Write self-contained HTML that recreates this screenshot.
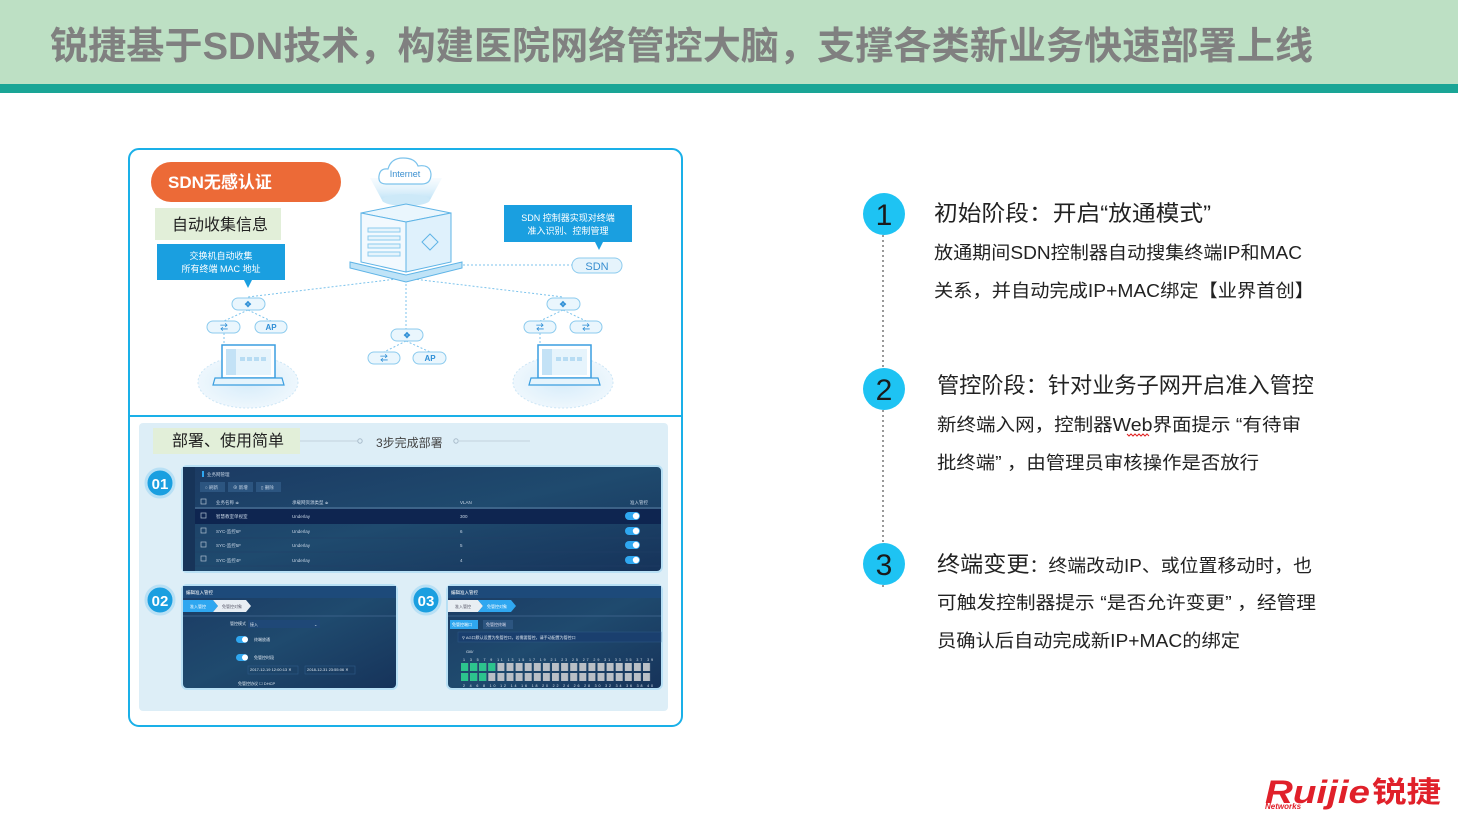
<!DOCTYPE html>
<html><head><meta charset="utf-8"><style>
html,body{margin:0;padding:0;background:#fff;width:1458px;height:826px;overflow:hidden}
svg{display:block}
text{font-family:"Liberation Sans","Noto Sans CJK SC",sans-serif}
</style></head><body>
<svg width="1458" height="826" viewBox="0 0 1458 826" xmlns="http://www.w3.org/2000/svg">
<defs>
<linearGradient id="dk" x1="0" y1="0" x2="1" y2="1">
<stop offset="0" stop-color="#1b3a63"/><stop offset="0.5" stop-color="#1f4a6e"/><stop offset="1" stop-color="#16335a"/></linearGradient>
<linearGradient id="beam" x1="0" y1="0" x2="0" y2="1">
<stop offset="0" stop-color="#e6f4fc" stop-opacity="0.3"/><stop offset="1" stop-color="#bfe3f7"/></linearGradient>
<radialGradient id="ell" cx="0.5" cy="0.5" r="0.5">
<stop offset="0" stop-color="#d6ecfa"/><stop offset="1" stop-color="#eef7fd"/></radialGradient>
<pattern id="ports" x="461" y="663" width="9.1" height="19" patternUnits="userSpaceOnUse">
<rect x="0" y="0" width="7" height="8" fill="#b9bfc6"/><rect x="0" y="10" width="7" height="8" fill="#b9bfc6"/></pattern>
</defs>

<!-- header -->
<rect x="0" y="0" width="1458" height="84" fill="#bde0c4"/>
<rect x="0" y="84" width="1458" height="9" fill="#1aa596"/>
<text x="50" y="59" font-size="38" font-weight="bold" fill="#808080" textLength="1263" lengthAdjust="spacingAndGlyphs">锐捷基于SDN技术，构建医院网络管控大脑，支撑各类新业务快速部署上线</text>

<!-- left frame -->
<rect x="129" y="149" width="553" height="577" rx="10" fill="#fff" stroke="#1ab0e8" stroke-width="2"/>
<line x1="129" y1="416" x2="682" y2="416" stroke="#1ab0e8" stroke-width="2"/>

<!-- network diagram -->
<g stroke="#7cc3ec" stroke-width="1" stroke-dasharray="2,2" fill="none">
<line x1="405" y1="278" x2="248" y2="297"/>
<line x1="405" y1="278" x2="563" y2="297"/>
<line x1="406" y1="280" x2="406" y2="330"/>
<line x1="455" y1="265" x2="572" y2="265"/>
<line x1="248" y1="310" x2="224" y2="321"/><line x1="248" y1="310" x2="271" y2="321"/>
<line x1="224" y1="333" x2="224" y2="346"/>
<line x1="406" y1="341" x2="384" y2="352"/><line x1="406" y1="341" x2="430" y2="352"/>
<line x1="563" y1="310" x2="540" y2="321"/><line x1="563" y1="310" x2="586" y2="321"/>
<line x1="540" y1="333" x2="540" y2="346"/>
</g>
<!-- beam + cloud -->
<path d="M370 178 L442 178 L430 200 L382 200 Z" fill="url(#beam)"/>
<ellipse cx="406" cy="200" rx="24" ry="6" fill="#cde9f8"/>
<path d="M386 184 Q378 184 379 176 Q380 168 388 169 Q391 158 403 158 Q415 158 418 166 Q430 164 431 174 Q431 184 422 184 Z" fill="#fff" stroke="#7cc3ec" stroke-width="1.2"/>
<text x="405" y="177" font-size="9" fill="#3a8fd0" text-anchor="middle">Internet</text>
<!-- server -->
<path d="M350 262 L406 275 L462 262 L462 268 L406 282 L350 268 Z" fill="#bfe3f7" stroke="#5fb4e6"/>
<path d="M361 213 L406 204 L451 213 L406 222 Z" fill="#eaf6fd" stroke="#5fb4e6"/>
<path d="M361 213 L406 222 L406 272 L361 262 Z" fill="#f2f9fe" stroke="#5fb4e6"/>
<path d="M406 222 L451 213 L451 262 L406 272 Z" fill="#dff1fc" stroke="#5fb4e6"/>
<g stroke="#8ccbee" fill="#e6f4fc"><rect x="368" y="228" width="32" height="4"/><rect x="368" y="236" width="32" height="4"/><rect x="368" y="244" width="32" height="4"/><rect x="368" y="252" width="32" height="4"/></g>
<path d="M430 234 L438 242 L430 250 L422 242 Z" fill="none" stroke="#5fb4e6"/>

<!-- orange pill -->
<rect x="151" y="162" width="190" height="40" rx="20" fill="#ec6a37"/>
<text x="168" y="188" font-size="17" font-weight="bold" fill="#fff">SDN无感认证</text>
<rect x="155" y="208" width="126" height="32" fill="#e2efd9"/>
<text x="172" y="230" font-size="16" fill="#222">自动收集信息</text>
<!-- left callout -->
<path d="M157 244 L285 244 L285 280 L252 280 L248 288 L244 280 L157 280 Z" fill="#1a9fe0"/>
<text x="221" y="259" font-size="9" fill="#fff" text-anchor="middle">交换机自动收集</text>
<text x="221" y="272" font-size="9" fill="#fff" text-anchor="middle">所有终端 MAC 地址</text>
<!-- right callout -->
<path d="M504 205 L632 205 L632 242 L603 242 L599 250 L595 242 L504 242 Z" fill="#1a9fe0"/>
<text x="568" y="221" font-size="9" fill="#fff" text-anchor="middle">SDN 控制器实现对终端</text>
<text x="568" y="234" font-size="9" fill="#fff" text-anchor="middle">准入识别、控制管理</text>
<rect x="572" y="258" width="50" height="15" rx="7.5" fill="#e6f4fc" stroke="#8ccbee"/>
<text x="597" y="270" font-size="11" fill="#3a8fd0" text-anchor="middle">SDN</text>

<!-- pills -->
<g fill="#eaf6fd" stroke="#8ccbee">
<rect x="232" y="298" width="33" height="12" rx="6"/>
<rect x="207" y="321" width="33" height="12" rx="6"/><rect x="255" y="321" width="32" height="12" rx="6"/>
<rect x="391" y="329" width="32" height="12" rx="6"/>
<rect x="368" y="352" width="32" height="12" rx="6"/><rect x="413" y="352" width="33" height="12" rx="6"/>
<rect x="547" y="298" width="33" height="12" rx="6"/>
<rect x="524" y="321" width="32" height="12" rx="6"/><rect x="570" y="321" width="32" height="12" rx="6"/>
</g>
<g fill="#2f8fd6" font-size="8" text-anchor="middle" font-weight="bold">
<text x="248" y="307">✥</text><text x="407" y="338">✥</text><text x="563" y="307">✥</text>
<text x="224" y="330">⇄</text><text x="271" y="330">AP</text>
<text x="384" y="361">⇄</text><text x="430" y="361">AP</text>
<text x="540" y="330">⇄</text><text x="586" y="330">⇄</text>
</g>
<!-- laptops -->
<ellipse cx="248" cy="382" rx="50" ry="26" fill="url(#ell)" stroke="#cde6f6" stroke-dasharray="2,2"/>
<rect x="222" y="345" width="53" height="33" fill="#fff" stroke="#3a9ee0" stroke-width="1.5"/>
<rect x="226" y="349" width="45" height="26" fill="#e6f4fc"/><rect x="226" y="349" width="10" height="26" fill="#c3e2f6"/>
<g fill="#b7dcf3"><rect x="240" y="357" width="5" height="4"/><rect x="247" y="357" width="5" height="4"/><rect x="254" y="357" width="5" height="4"/><rect x="261" y="357" width="5" height="4"/></g>
<path d="M215 378 L282 378 L284 385 L213 385 Z" fill="#e6f4fc" stroke="#3a9ee0" stroke-width="1.2"/>
<ellipse cx="563" cy="382" rx="50" ry="26" fill="url(#ell)" stroke="#cde6f6" stroke-dasharray="2,2"/>
<rect x="538" y="345" width="53" height="33" fill="#fff" stroke="#3a9ee0" stroke-width="1.5"/>
<rect x="542" y="349" width="45" height="26" fill="#e6f4fc"/><rect x="542" y="349" width="10" height="26" fill="#c3e2f6"/>
<g fill="#b7dcf3"><rect x="556" y="357" width="5" height="4"/><rect x="563" y="357" width="5" height="4"/><rect x="570" y="357" width="5" height="4"/><rect x="577" y="357" width="5" height="4"/></g>
<path d="M531 378 L598 378 L600 385 L529 385 Z" fill="#e6f4fc" stroke="#3a9ee0" stroke-width="1.2"/>

<!-- lower panel -->
<rect x="139" y="423" width="529" height="288" rx="4" fill="#ddeef7"/>
<rect x="153" y="428" width="147" height="26" fill="#e2efd9"/>
<text x="172" y="446" font-size="16" fill="#222">部署、使用简单</text>
<line x1="300" y1="441" x2="358" y2="441" stroke="#c2d3de"/>
<circle cx="360" cy="441" r="2.2" fill="none" stroke="#a9bccb"/>
<text x="376" y="447" font-size="12" fill="#444">3步完成部署</text>
<circle cx="456" cy="441" r="2.2" fill="none" stroke="#a9bccb"/>
<line x1="458" y1="441" x2="530" y2="441" stroke="#c2d3de"/>

<!-- badges -->
<g font-size="15" font-weight="bold" fill="#fff" text-anchor="middle">
<circle cx="160" cy="483" r="14" fill="#1a9fe0" stroke="#b8e0f5" stroke-width="3"/><text x="160" y="489">01</text>
<circle cx="160" cy="600" r="14" fill="#1a9fe0" stroke="#b8e0f5" stroke-width="3"/><text x="160" y="606">02</text>
<circle cx="426" cy="600" r="14" fill="#1a9fe0" stroke="#b8e0f5" stroke-width="3"/><text x="426" y="606">03</text>
</g>

<!-- panel 01 -->
<rect x="182" y="466" width="480" height="106" rx="5" fill="url(#dk)" stroke="#b8e0f5" stroke-width="2"/>
<rect x="183" y="467" width="12" height="104" fill="#173459"/>
<rect x="202" y="471" width="2" height="6" fill="#2fa7f0"/>
<g font-size="4.5" fill="#c8d6e6">
<text x="207" y="476">业务网管理</text>
<rect x="200" y="482" width="25" height="10" fill="#2c5580"/><rect x="228" y="482" width="25" height="10" fill="#2c5580"/><rect x="256" y="482" width="25" height="10" fill="#2c5580"/>
<text x="205" y="489">○ 刷新</text><text x="233" y="489">⊕ 新增</text><text x="261" y="489">▯ 删除</text>
<text x="216" y="504">业务名称 ≑</text><text x="292" y="504">承载网资源类型 ≑</text><text x="460" y="504">VLAN</text><text x="630" y="504">准入管控</text>
</g>
<line x1="195" y1="508" x2="661" y2="508" stroke="#5b7fa5"/>
<rect x="195" y="509" width="466" height="15" fill="#0e2550"/>
<g font-size="4.5" fill="#c8d6e6">
<text x="216" y="518">智慧教室单视室</text><text x="292" y="518">Underlay</text><text x="460" y="518">300</text>
<text x="216" y="533">SYC-监控6F</text><text x="292" y="533">Underlay</text><text x="460" y="533">6</text>
<text x="216" y="547">SYC-监控5F</text><text x="292" y="547">Underlay</text><text x="460" y="547">5</text>
<text x="216" y="562">SYC-监控4F</text><text x="292" y="562">Underlay</text><text x="460" y="562">4</text>
</g>
<g fill="none" stroke="#b0c0d0" stroke-width="0.7"><rect x="201" y="513" width="5" height="5"/><rect x="201" y="528" width="5" height="5"/><rect x="201" y="542" width="5" height="5"/><rect x="201" y="556" width="5" height="5"/><rect x="201" y="499" width="5" height="5"/></g>
<g><rect x="625" y="512" width="15" height="8" rx="4" fill="#2fa7f0"/><circle cx="636" cy="516" r="3.2" fill="#fff"/>
<rect x="625" y="527" width="15" height="8" rx="4" fill="#2fa7f0"/><circle cx="636" cy="531" r="3.2" fill="#fff"/>
<rect x="625" y="541" width="15" height="8" rx="4" fill="#2fa7f0"/><circle cx="636" cy="545" r="3.2" fill="#fff"/>
<rect x="625" y="556" width="15" height="8" rx="4" fill="#2fa7f0"/><circle cx="636" cy="560" r="3.2" fill="#fff"/></g>
<g stroke="#233f66" stroke-width="0.6"><line x1="195" y1="538" x2="661" y2="538"/><line x1="195" y1="552" x2="661" y2="552"/><line x1="195" y1="566" x2="661" y2="566"/></g>

<!-- panel 02 -->
<rect x="182" y="585" width="215" height="104" rx="5" fill="url(#dk)" stroke="#b8e0f5" stroke-width="2"/>
<rect x="183" y="586" width="213" height="12" fill="#1d4a7a"/>
<text x="186" y="594" font-size="4.5" fill="#fff">编辑准入管控</text>
<path d="M183 600 L213 600 L218 606 L213 612 L183 612 Z" fill="#2fa7f0"/>
<path d="M213 600 L246 600 L251 606 L246 612 L213 612 L218 606 Z" fill="#e8eef3"/>
<text x="190" y="608" font-size="4" fill="#fff">准入管控</text><text x="222" y="608" font-size="4" fill="#556">免管控对象</text>
<line x1="183" y1="616" x2="396" y2="616" stroke="#3a6088"/>
<rect x="248" y="620" width="72" height="8" fill="#1f4877"/>
<g font-size="4" fill="#dde6ef"><text x="230" y="625">管控模式</text><text x="250" y="626">接入</text><text x="314" y="626">⌄</text>
<text x="254" y="641">终端放通</text><text x="254" y="659">免管控时段</text>
<text x="250" y="671">2017-12-19 12:00:13 ✕</text><text x="307" y="671">2018-12-31 23:55:06 ✕</text>
<text x="238" y="685">免管控协议 ☐ DHCP</text></g>
<rect x="236" y="636" width="12" height="7" rx="3.5" fill="#2fa7f0"/><circle cx="245" cy="639.5" r="3" fill="#fff"/>
<rect x="236" y="654" width="12" height="7" rx="3.5" fill="#2fa7f0"/><circle cx="245" cy="657.5" r="3" fill="#fff"/>
<rect x="248" y="666" width="50" height="8" fill="none" stroke="#2e5a88" stroke-width="0.6"/><rect x="305" y="666" width="50" height="8" fill="none" stroke="#2e5a88" stroke-width="0.6"/>

<!-- panel 03 -->
<rect x="447" y="585" width="215" height="104" rx="5" fill="url(#dk)" stroke="#b8e0f5" stroke-width="2"/>
<rect x="448" y="586" width="213" height="12" fill="#1d4a7a"/>
<text x="451" y="594" font-size="4.5" fill="#fff">编辑准入管控</text>
<path d="M448 600 L478 600 L483 606 L478 612 L448 612 Z" fill="#e8eef3"/>
<path d="M478 600 L511 600 L516 606 L511 612 L478 612 L483 606 Z" fill="#2fa7f0"/>
<text x="455" y="608" font-size="4" fill="#556">准入管控</text><text x="487" y="608" font-size="4" fill="#fff">免管控对象</text>
<line x1="448" y1="616" x2="661" y2="616" stroke="#3a6088"/>
<rect x="450" y="620" width="28" height="9" fill="#2fa7f0"/><rect x="483" y="620" width="30" height="9" fill="#2c5580"/>
<text x="452" y="626" font-size="4" fill="#fff">免管控端口</text><text x="486" y="626" font-size="4" fill="#dde">免管控终端</text>
<rect x="458" y="632" width="203" height="10" fill="#1a3f6e" stroke="#2e5a88" stroke-width="0.5"/>
<text x="462" y="639" font-size="4" fill="#dde6ef">⚲ AG口默认设置为免管控口，若需要管控，请手动配置为管控口</text>
<text x="466" y="653" font-size="4" fill="#dde6ef">Gi0/</text>
<text x="463" y="661" font-size="3.6" fill="#dde6ef" textLength="190" lengthAdjust="spacing">1 3 5 7 9 11 13 15 17 19 21 23 25 27 29 31 33 35 37 39</text>
<rect x="461" y="663" width="191" height="19" fill="url(#ports)"/>
<g fill="#2cc48d"><rect x="461" y="663" width="7" height="8"/><rect x="470.1" y="663" width="7" height="8"/><rect x="479.2" y="663" width="7" height="8"/><rect x="488.3" y="663" width="7" height="8"/>
<rect x="461" y="673" width="7" height="8"/><rect x="470.1" y="673" width="7" height="8"/><rect x="479.2" y="673" width="7" height="8"/></g>
<text x="463" y="687" font-size="3.6" fill="#dde6ef" textLength="190" lengthAdjust="spacing">2 4 6 8 10 12 14 16 18 20 22 24 26 28 30 32 34 36 38 40</text>

<!-- right steps -->
<line x1="883" y1="235" x2="883" y2="590" stroke="#999" stroke-width="2" stroke-dasharray="2,3"/>
<g fill="#1ec3f3"><circle cx="884" cy="214" r="21"/><circle cx="884" cy="389" r="21"/><circle cx="884" cy="564" r="21"/></g>
<g font-size="30" fill="#1a1a1a" text-anchor="middle"><text x="884" y="225">1</text><text x="884" y="400">2</text><text x="884" y="575">3</text></g>
<g fill="#222">
<text x="934" y="221" font-size="22" textLength="277" lengthAdjust="spacingAndGlyphs">初始阶段：开启“放通模式”</text>
<text x="934" y="259" font-size="18" textLength="368" lengthAdjust="spacingAndGlyphs">放通期间SDN控制器自动搜集终端IP和MAC</text>
<text x="934" y="297" font-size="18" textLength="380" lengthAdjust="spacingAndGlyphs">关系，并自动完成IP+MAC绑定【业界首创】</text>
<text x="937" y="393" font-size="22" textLength="377" lengthAdjust="spacingAndGlyphs">管控阶段：针对业务子网开启准入管控</text>
<text x="937" y="431" font-size="18" textLength="364" lengthAdjust="spacingAndGlyphs">新终端入网，控制器Web界面提示 “有待审</text>
<text x="937" y="469" font-size="18" textLength="322" lengthAdjust="spacingAndGlyphs">批终端” ，由管理员审核操作是否放行</text>
<text x="937" y="572" font-size="18" textLength="375" lengthAdjust="spacingAndGlyphs"><tspan font-size="22">终端变更</tspan>：终端改动IP、或位置移动时，也</text>
<text x="937" y="609" font-size="18" textLength="379" lengthAdjust="spacingAndGlyphs">可触发控制器提示 “是否允许变更” ，经管理</text>
<text x="937" y="647" font-size="18" textLength="303" lengthAdjust="spacingAndGlyphs">员确认后自动完成新IP+MAC的绑定</text>
</g>
<path d="M1127 434 l2 2 l2 -2 l2 2 l2 -2 l2 2 l2 -2 l2 2 l2 -2 l2 2 l2 -2 l2 2" fill="none" stroke="#e02020" stroke-width="1"/>

<!-- logo -->
<text x="1265" y="803" font-size="32" font-weight="bold" font-style="italic" fill="#e0202a" textLength="105" lengthAdjust="spacingAndGlyphs">Ruijie</text>
<text x="1372" y="802" font-size="29" font-weight="bold" fill="#e0202a" textLength="69" lengthAdjust="spacingAndGlyphs">锐捷</text>
<text x="1265" y="809" font-size="8" font-style="italic" font-weight="bold" fill="#e0202a">Networks</text>
</svg>
</body></html>
